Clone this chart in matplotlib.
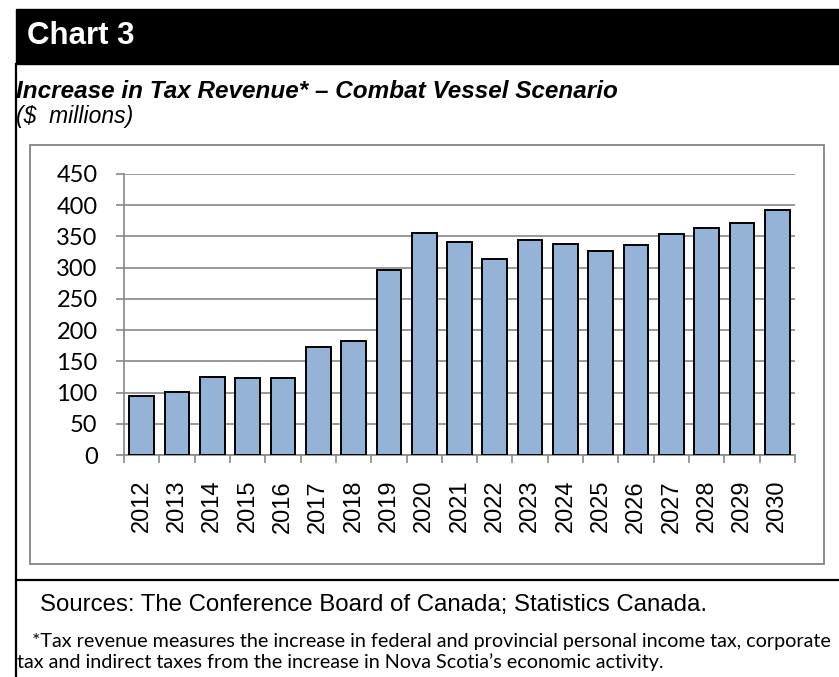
import matplotlib.pyplot as plt
from matplotlib.patches import Rectangle
from matplotlib.lines import Line2D
from matplotlib.ticker import FixedLocator

# Increase in tax revenue, $ millions
years = ['2012', '2013', '2014', '2015', '2016', '2017', '2018', '2019', '2020',
         '2021', '2022', '2023', '2024', '2025', '2026', '2027', '2028', '2029',
         '2030']
revenue = [94, 101, 125, 123, 124, 173, 183, 296, 355,
           341, 314, 345, 338, 327, 337, 354, 363, 372, 392]
yticks = [0, 50, 100, 150, 200, 250, 300, 350, 400, 450]

W, H = 839, 677
BAR = '#95b3d7'
GRID = '#878787'


def fx(px):
    return px / W


def fy(py):
    return 1 - py / H


fig = plt.figure(figsize=(W / 100, H / 100), dpi=100)

# header band
fig.patches.append(Rectangle((fx(16), fy(64)), fx(W - 16), 55 / H,
                             transform=fig.transFigure, color='black'))
fig.text(fx(27), fy(36), 'Chart 3', color='white', fontsize=22.5,
         fontweight='bold', family='Liberation Sans', va='center')

# page frame lines
fig.add_artist(Line2D([fx(16), fx(16)], [fy(64), 0], color='black', lw=1.6,
                      transform=fig.transFigure))
fig.add_artist(Line2D([fx(16), 1], [fy(580), fy(580)], color='black', lw=1.6,
                      transform=fig.transFigure))

fig.text(fx(16), fy(91), 'Increase in Tax Revenue* \u2013 Combat Vessel Scenario',
         fontsize=17.5, fontweight='bold', style='italic', family='Liberation Sans',
         va='center')
fig.text(fx(16), fy(117), '($  millions)', fontsize=16.5, style='italic',
         family='Liberation Sans', va='center')

# chart border
fig.patches.append(Rectangle((fx(30), fy(564)), fx(824 - 30), (564 - 145) / H,
                             transform=fig.transFigure, fill=False,
                             edgecolor='#8c8c8c', lw=1.4))

ax = fig.add_axes([fx(124), fy(455), fx(795 - 124), (455 - 174) / H])
x = list(range(len(years)))
ax.bar(x, revenue, width=0.7, color=BAR, edgecolor='black', linewidth=1.4,
       zorder=3)
ax.set_xlim(-0.5, len(years) - 0.5)
ax.set_ylim(0, 450)
ax.set_yticks(yticks)
ax.set_yticklabels([str(v) for v in yticks], family='Lato', fontsize=17)
ax.set_xticks(x)
ax.set_xticklabels(years, rotation=90, family='Liberation Sans', fontsize=17)
ax.xaxis.set_minor_locator(FixedLocator([i - 0.5 for i in range(len(years) + 1)]))
ax.tick_params(axis='x', which='major', length=0, pad=18)
ax.tick_params(axis='x', which='minor', length=6, width=1.2, color=GRID,
               direction='out')
ax.tick_params(axis='y', length=6, width=1.2, color=GRID, pad=13)
ax.grid(axis='y', color=GRID, lw=1.2, zorder=0)
for s in ['top', 'right']:
    ax.spines[s].set_visible(False)
for s in ['left', 'bottom']:
    ax.spines[s].set_color(GRID)
    ax.spines[s].set_linewidth(1.2)

fig.text(fx(40), fy(605), 'Sources: The Conference Board of Canada; Statistics Canada.',
         fontsize=17.3, family='Liberation Sans', va='center')
fig.text(fx(32), fy(642),
         '*Tax revenue measures the increase in federal and provincial personal income tax, corporate',
         fontsize=14.2, family='Lato', va='center')
fig.text(fx(17), fy(662),
         'tax and indirect taxes from the increase in Nova Scotia\u2019s economic activity.',
         fontsize=14.2, family='Lato', va='center')

fig.savefig('out.png', dpi=100)
